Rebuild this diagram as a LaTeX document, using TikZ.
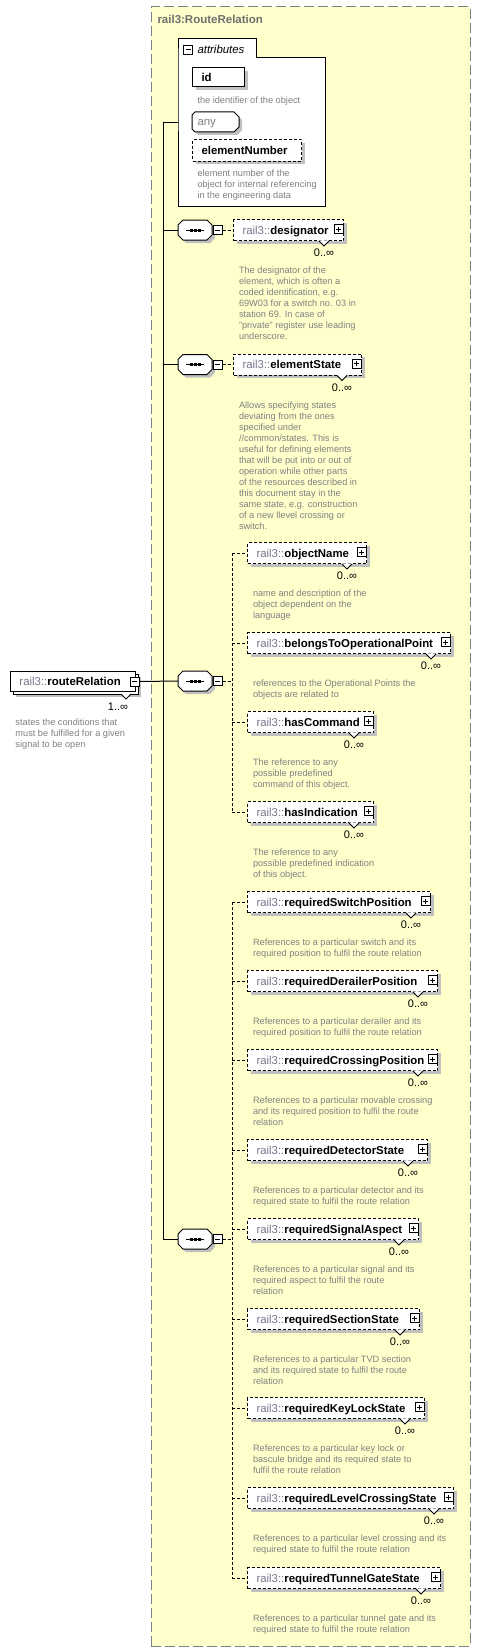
\documentclass[tikz,border=0pt]{standalone}
\usepackage{fontspec}
\setmainfont{Liberation Sans}
\usetikzlibrary{shadows}
\definecolor{bgyellow}{RGB}{255,255,204}
\definecolor{framegray}{RGB}{128,128,128}
\definecolor{titlegray}{RGB}{112,112,112}
\definecolor{descgray}{RGB}{128,128,128}
\definecolor{prefgray}{RGB}{118,118,140}
\definecolor{shadowgray}{RGB}{192,192,192}
\newcommand\pref{\textcolor{prefgray}{rail3::}}
\newcommand\ename[1]{\pref\textbf{#1}}
\newcommand\dstrut{\rule{0pt}{7pt}}
\tikzset{
  shad/.style={drop shadow={shadow xshift=3pt,shadow yshift=-3pt,fill=shadowgray,opacity=1}},
  elembox/.style={draw=black, dash pattern=on 3pt off 2pt, fill=white, minimum height=21pt, inner sep=0pt, anchor=west, shad},
  attrbox/.style={draw=black, fill=white, inner sep=0pt, anchor=west, shad},
  pmbox/.style={draw=black, solid, fill=white, minimum size=9pt, inner sep=0pt},
  lbl/.style={font=\fontsize{11.4}{13}\selectfont, inner sep=0pt, anchor=base west},
  mult/.style={font=\fontsize{11}{13}\selectfont, inner sep=0pt, anchor=base},
  desc/.style={font=\fontsize{9.2}{11}\selectfont, text=descgray, align=left, inner sep=0pt, anchor=north west},
  seqnode/.style={minimum width=34pt, minimum height=20pt, inner sep=0pt, anchor=west},
  dconn/.style={dash pattern=on 3pt off 2pt},
}
\newcommand\elem[6]{%
  \node[elembox, minimum width={#4-#2}] (#1) at (#2,#3) {};
  \node[lbl] (#1-t) at ([xshift=9pt,yshift=-4pt]#1.west) {\ename{#5}};
  \node[pmbox] (#1-p) at ([xshift=-5.5pt,yshift=1pt]#1.east) {};
  \draw ([xshift=-2.5pt]#1-p.center) -- ([xshift=2.5pt]#1-p.center)
        ([yshift=-2.5pt]#1-p.center) -- ([yshift=2.5pt]#1-p.center);
  \fill[white] ([xshift=-25pt,yshift=0.7pt]#1.south east) -- ([xshift=-20pt,yshift=-5pt]#1.south east) -- ([xshift=-15pt,yshift=0.7pt]#1.south east) -- cycle;
  \draw ([xshift=-25pt]#1.south east) -- ([xshift=-20pt,yshift=-5pt]#1.south east) -- ([xshift=-15pt]#1.south east);
  \node[mult] (#1-m) at ([xshift=-20pt,yshift=-26.5pt]#1.east) {0..∞};
  \node[desc] (#1-d) at ([xshift=5.5pt,yshift=-36.3pt]#1.west) {\dstrut#6};
}
\newcommand\seq[3]{%
  \node[seqnode] (#1) at (#2,#3) {};
  \fill[shadowgray] (#2+8,#3-7) -- (#2+32,#3-7) -- (#2+37,#3-2) -- (#2+37,#3+8) -- (#2+32,#3+13) -- (#2+8,#3+13) -- (#2+3,#3+8) -- (#2+3,#3-2) -- cycle;
  \filldraw[fill=white] (#2+5,#3-10) -- (#2+29,#3-10) -- (#2+34,#3-5) -- (#2+34,#3+5) -- (#2+29,#3+10) -- (#2+5,#3+10) -- (#2,#3+5) -- (#2,#3-5) -- cycle;
  \draw (#2+8,#3) -- (#2+26,#3);
  \foreach \dx in {13,17,21} \fill (#2+\dx-1.5,#3-1.5) rectangle ++(3,3);
  \node[pmbox] (#1-p) at (#2+39.5,#3) {};
  \draw ([xshift=-2.5pt]#1-p.center) -- ([xshift=2.5pt]#1-p.center);
  \draw (#1.east) -- (#1-p.west);
}
\begin{document}
\begin{tikzpicture}[x=1pt,y=-1pt,line width=1pt]
\useasboundingbox (0,0) rectangle (480,1651);
% frame
\node[draw=framegray, dash pattern=on 10pt off 4pt, fill=bgyellow, minimum width=319pt, minimum height=1639pt, anchor=north west, inner sep=0pt] (frame) at (150.5,6.5) {};
\node[font=\fontsize{11.5}{13}\selectfont\bfseries, text=titlegray, inner sep=0pt, anchor=base west] (ttl) at (157,24) {rail3:RouteRelation};
% trunk
\coordinate (trunkTop) at (163,123);
\coordinate (trunkBot) at (163,1239);
\draw (trunkTop) -- (trunkBot);
\draw (trunkTop) -- (178,123);
% attributes
\node[inner sep=0pt, minimum width=147pt, minimum height=148pt, anchor=north west] (attr) at (178,58) {};
\draw[fill=white] (178,58) -- (178,39) -- (256,39) -- (256,58) -- (325,58) -- (325,206) -- (178,206) -- cycle;
\node[pmbox] (attr-p) at (188,50) {};
\draw ([xshift=-2.5pt]attr-p.center) -- ([xshift=2.5pt]attr-p.center);
\node[lbl, font=\fontsize{11.4}{13}\selectfont\itshape] (attr-t) at (197,54) {attributes};
\node[attrbox, minimum width=52pt, minimum height=19pt] (id) at (192,77.5) {};
\node[lbl] (id-t) at (201,81.5) {\textbf{id}};
\node[desc] (id-d) at (197,96.3) {\dstrut the identifier of the object};
\fill[shadowgray] (198,115) -- (237,115) -- (242,120) -- (242,130) -- (237,135) -- (198,135) -- (195,132) -- (195,118) -- cycle;
\node[inner sep=0pt, minimum width=47pt, minimum height=20pt, anchor=west] (any) at (192,122) {};
\draw[fill=white] (195,112) -- (234,112) -- (239,117) -- (239,127) -- (234,132) -- (195,132) -- (192,129) -- (192,115) -- cycle;
\node[lbl, text=descgray] (any-t) at (197,126) {any};
\node[attrbox, dash pattern=on 3pt off 2pt, minimum width=109pt, minimum height=21pt] (eNum) at (192,150.5) {};
\node[lbl] (eNum-t) at (201,154.5) {\textbf{elementNumber}};
\node[desc] (eNum-d) at (197,169.3) {\dstrut element number of the\\object for internal referencing\\in the engineering data};
% routeRelation
\fill[shadowgray] (16,677) rectangle (141,697);
\draw[fill=white] (13,674) rectangle (138,694);
\node[draw, fill=white, minimum width=125pt, minimum height=20pt, inner sep=0pt, anchor=west] (rr) at (10,681) {};
\node[lbl] (rr-t) at (19,685) {\ename{routeRelation}};
\node[pmbox] (rr-p) at (134.5,681.5) {};
\draw ([xshift=-2.5pt]rr-p.center) -- ([xshift=2.5pt]rr-p.center);
\fill[white] (121,693.3) -- (126,699) -- (131,693.3) -- cycle;
\draw (121,694) -- (126,699) -- (131,694);
\node[mult] (rr-m) at (118,710) {1..∞};
\node[desc] (rr-d) at (15,718.3) {\dstrut states the conditions that\\must be fulfilled for a given\\signal to be open};
% sequences
\seq{seqA}{178}{230}
\seq{seqB}{178}{364.5}
\seq{seqC}{178}{681}
\seq{seqD}{178}{1239}
\draw (trunkTop |- seqA.west) -- (seqA.west);
\draw (trunkTop |- seqB.west) -- (seqB.west);
\draw (trunkTop |- seqD.west) -- (seqD.west);
\draw (rr-p.east) -- (seqC.west);
\coordinate (busC) at (232,681);
\coordinate (busD) at (232,1239);
% elements
\elem{desig}{233}{230}{343}{designator}{The designator of the\\element, which is often a\\coded identification, e.g.\\69W03 for a switch no. 03 in\\station 69. In case of\\"private" register use leading\\underscore.}
\elem{eState}{233}{364.5}{361}{elementState}{Allows specifying states\\deviating from the ones\\specified under\\//common/states. This is\\useful for defining elements\\that will be put into or out of\\operation while other parts\\of the resources described in\\this document stay in the\\same state, e.g. construction\\of a new llevel crossing or\\switch.}
\elem{objName}{247}{553}{366}{objectName}{name and description of the\\object dependent on the\\language}
\elem{belongs}{247}{643}{450}{belongsToOperationalPoint}{references to the Operational Points the\\objects are related to}
\elem{hasCmd}{247}{722}{373}{hasCommand}{The reference to any\\possible predefined\\command of this object.}
\elem{hasInd}{247}{812}{373}{hasIndication}{The reference to any\\possible predefined indication\\of this object.}
\elem{rSwitch}{247}{902}{430}{requiredSwitchPosition}{References to a particular switch and its\\required position to fulfil the route relation}
\elem{rDerailer}{247}{981}{437}{requiredDerailerPosition}{References to a particular derailer and its\\required position to fulfil the route relation}
\elem{rCrossing}{247}{1060}{437}{requiredCrossingPosition}{References to a particular movable crossing\\and its required position to fulfil the route\\relation}
\elem{rDetector}{247}{1150}{427}{requiredDetectorState}{References to a particular detector and its\\required state to fulfil the route relation}
\elem{rSignal}{247}{1229}{418}{requiredSignalAspect}{References to a particular signal and its\\required aspect to fulfil the route\\relation}
\elem{rSection}{247}{1319}{419}{requiredSectionState}{References to a particular TVD section\\and its required state to fulfil the route\\relation}
\elem{rKeyLock}{247}{1408}{424}{requiredKeyLockState}{References to a particular key lock or\\bascule bridge and its required state to\\fulfil the route relation}
\elem{rLevel}{247}{1498}{453}{requiredLevelCrossingState}{References to a particular level crossing and its\\required state to fulfil the route relation}
\elem{rTunnel}{247}{1578}{440}{requiredTunnelGateState}{References to a particular tunnel gate and its\\required state to fulfil the route relation}
% dashed connectors
\draw[dconn] (seqA-p.east) -- (desig.west);
\draw[dconn] (seqB-p.east) -- (eState.west);
\draw[dconn] (seqC-p.east) -- (busC);
\draw[dconn] (busC |- objName.west) -- (busC |- hasInd.west);
\foreach \c in {objName,belongs,hasCmd,hasInd} \draw[dconn] (busC |- \c.west) -- (\c.west);
\draw[dconn] (seqD-p.east) -- (busD);
\draw[dconn] (busD |- rSwitch.west) -- (busD |- rTunnel.west);
\foreach \c in {rSwitch,rDerailer,rCrossing,rDetector,rSignal,rSection,rKeyLock,rLevel,rTunnel} \draw[dconn] (busD |- \c.west) -- (\c.west);
\end{tikzpicture}
\end{document}
